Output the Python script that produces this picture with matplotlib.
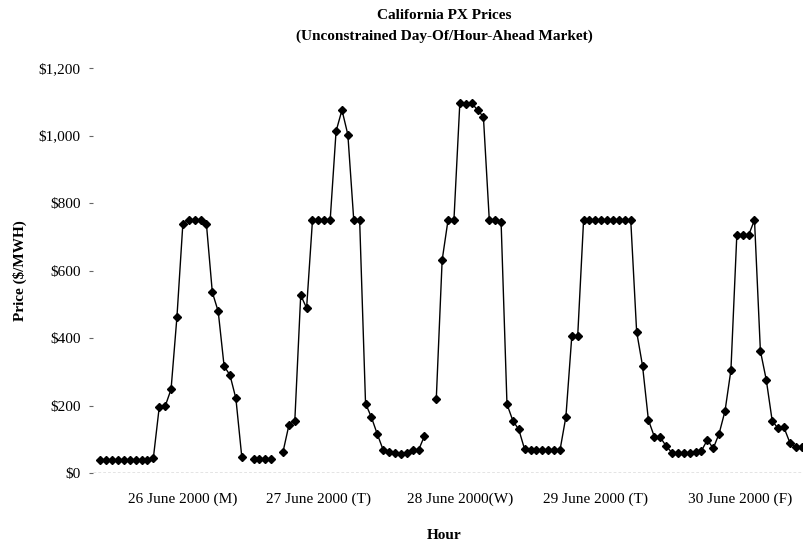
import numpy as np
import matplotlib
matplotlib.use("Agg")
import matplotlib.pyplot as plt
from matplotlib.ticker import FuncFormatter

nan = np.nan
# Hourly prices, 26-30 June 2000 (120 hours), NaN = missing hour
day1 = [38, 38, 38, 38, 38, 38, 38, 38, 38, 45, 196, 198, 248, 463, 738, 750,
        750, 750, 738, 536, 479, 317, 290, 221]
day2 = [48, nan, 42, 42, 42, 42, nan, 63, 142, 155, 527, 489, 750, 750, 750, 750,
        1013, 1076, 1003, 750, 750, 206, 165, 115]
day3 = [68, 62, 58, 57, 59, 68, 68, 110, nan, 218, 631, 750, 750, 1097, 1095, 1097,
        1076, 1056, 750, 750, 745, 204, 155, 129]
day4 = [70, 68, 68, 68, 68, 68, 68, 167, 406, 406, 750, 750, 750, 750, 750, 750,
        750, 750, 750, 419, 318, 157, 108, 106]
day5 = [80, 60, 58, 58, 58, 62, 66, 98, 73, 117, 184, 305, 705, 705, 705, 750,
        362, 276, 155, 132, 135, 90, 78, 78]
prices = np.array(day1 + day2 + day3 + day4 + day5, dtype=float)
hours = np.arange(len(prices))

day_labels = ["26 June 2000 (M)", "27 June 2000 (T)", "28 June 2000(W)",
              "29 June 2000 (T)", "30 June 2000 (F)"]
day_label_pos = [14, 37, 61, 84, 108.5]
yticks = [0, 200, 400, 600, 800, 1000, 1200]

plt.rcParams['font.family'] = ['Liberation Serif', 'DejaVu Serif']

fig = plt.figure(figsize=(8.04, 5.5), dpi=100)
ax = fig.add_axes([0.116, 0.14, 0.884, 0.736])

ax.plot(hours, prices, color='black', lw=1.0, marker='D', markersize=3.8,
        markerfacecolor='black', markeredgecolor='black')

ax.axhline(0, color='#777777', lw=1.0, ls=(0, (2, 1.5)), zorder=0)

ax.set_xlim(-1.2, 119.4)
ax.set_ylim(0, 1200)
ax.set_yticks(yticks)
ax.yaxis.set_major_formatter(FuncFormatter(lambda v, p: "${:,.0f}".format(v)))
ax.tick_params(axis='y', length=3, width=0.8, color='#666666', labelsize=11, pad=6)
ax.set_xticks(day_label_pos)
ax.set_xticklabels(day_labels)
ax.tick_params(axis='x', length=0, labelsize=11, pad=14)
for s in ax.spines.values():
    s.set_visible(False)

fig.text(0.553, 0.972, "California PX Prices", ha='center', va='center',
         fontsize=11, fontweight='bold')
fig.text(0.553, 0.934, "(Unconstrained Day-Of/Hour-Ahead Market)", ha='center',
         va='center', fontsize=11, fontweight='bold')
fig.text(0.553, 0.027, "Hour", ha='center', va='center', fontsize=11, fontweight='bold')
fig.text(0.025, 0.508, "Price ($/MWH)", ha='center', va='center', rotation=90,
         fontsize=11, fontweight='bold')

fig.savefig("out.png", dpi=100)
